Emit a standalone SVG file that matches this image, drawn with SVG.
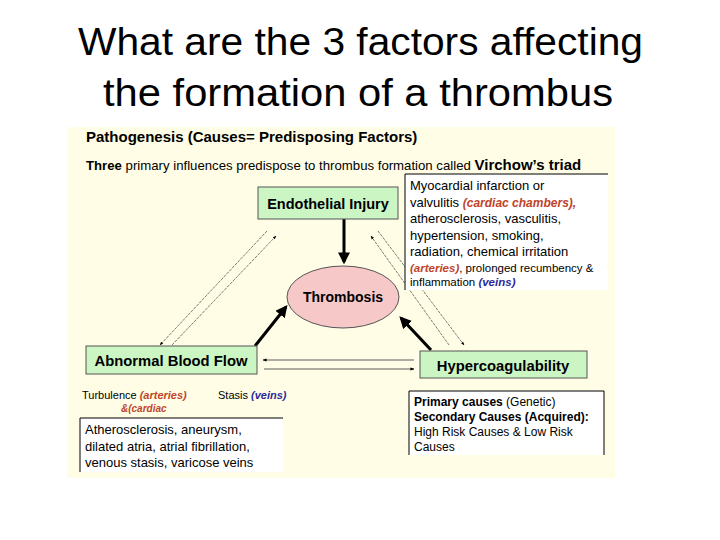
<svg xmlns="http://www.w3.org/2000/svg" width="720" height="540" viewBox="0 0 720 540">
<style>
.t{font-family:"Liberation Sans",Arial,sans-serif;fill:#000}
.b{font-weight:bold}
.r{fill:#c0442a;font-style:italic;font-weight:bold}
.v{fill:#2a2a9a;font-style:italic;font-weight:bold}
.gb{fill:#ccf5c4;stroke:#555;stroke-width:1}
.thin{stroke:#333;stroke-width:0.8;fill:none}
.dash{stroke:#444;stroke-width:0.7;fill:none;stroke-dasharray:3 1}
.thick{stroke:#000;stroke-width:3;fill:none}
</style>
<defs>
<marker id="a" viewBox="0 0 10 10" refX="9" refY="5" markerWidth="5" markerHeight="5" orient="auto"><path d="M0,1 L10,5 L0,9 z" fill="#000"/></marker>
<marker id="A" viewBox="0 0 10 10" refX="8" refY="5" markerWidth="4" markerHeight="4" orient="auto"><path d="M0,0 L10,5 L0,10 z" fill="#000"/></marker>
</defs>
<rect width="720" height="540" fill="#fff"/>
<text class="t" x="78" y="55" font-size="38" textLength="565" lengthAdjust="spacingAndGlyphs">What are the 3 factors affecting</text>
<text class="t" x="103" y="106" font-size="38" textLength="510" lengthAdjust="spacingAndGlyphs">the formation of a thrombus</text>
<rect x="67" y="127" width="548" height="351" fill="#fffde6"/>
<text class="t b" x="86" y="142" font-size="15">Pathogenesis (Causes= Predisposing Factors)</text>
<text class="t" x="86" y="170" font-size="13.2"><tspan class="b">Three</tspan> primary influences predispose to thrombus formation called <tspan class="b" font-size="15">Virchow’s triad</tspan></text>
<g id="connectors">
<line class="thick" x1="344" y1="219" x2="344" y2="262" marker-end="url(#A)"/>
<line class="thick" x1="255" y1="346" x2="286" y2="307" marker-end="url(#A)"/>
<line class="thick" x1="431" y1="350" x2="401" y2="318" marker-end="url(#A)"/>
<line class="dash" x1="267" y1="231" x2="160" y2="345" marker-end="url(#a)"/>
<line class="dash" x1="172" y1="345" x2="276" y2="236" marker-end="url(#a)"/>
<line class="dash" x1="449" y1="345" x2="371" y2="236" marker-end="url(#a)"/>
<line class="dash" x1="378" y1="231" x2="464" y2="345" marker-end="url(#a)"/>
<line class="thin" x1="414" y1="360" x2="263" y2="360" marker-end="url(#a)"/>
<line class="thin" x1="264" y1="369" x2="414" y2="369" marker-end="url(#a)"/>
</g>
<g id="endothelial"><rect class="gb" x="258" y="187" width="140" height="32"/><text class="t b" x="328" y="209" font-size="14.5" text-anchor="middle">Endothelial Injury</text></g>
<g id="thrombosis"><ellipse cx="343" cy="297" rx="56" ry="31" fill="#f7c8c8" stroke="#555"/><text class="t b" x="343" y="302" font-size="14" text-anchor="middle">Thrombosis</text></g>
<g id="abnormal"><rect class="gb" x="86" y="346" width="171" height="28"/><text class="t b" x="171" y="366" font-size="14.8" text-anchor="middle">Abnormal Blood Flow</text></g>
<g id="hyper"><rect class="gb" x="420" y="351" width="167" height="27"/><text class="t b" x="503" y="371" font-size="14.8" text-anchor="middle">Hypercoagulability</text></g>
<g id="endo-causes">
<rect x="405" y="174" width="203" height="116" fill="#fff"/>
<path d="M405,290 V174 H608" stroke="#000" stroke-width="1" fill="none"/>
<text class="t" font-size="13"><tspan x="410" y="190">Myocardial infarction or</tspan><tspan x="410" y="207">valvulitis <tspan class="r" font-size="12">(cardiac chambers),</tspan></tspan><tspan x="410" y="223">atherosclerosis, vasculitis,</tspan><tspan x="410" y="240">hypertension, smoking,</tspan><tspan x="410" y="256">radiation, chemical irritation</tspan><tspan x="410" y="272" font-size="11.5"><tspan class="r">(arteries)</tspan>, prolonged recumbency &amp;</tspan><tspan x="410" y="286" font-size="11.5">inflammation <tspan class="v">(veins)</tspan></tspan></text>
</g>
<g id="flow-causes">
<text class="t" x="82" y="399" font-size="11">Turbulence <tspan class="r">(arteries)</tspan></text>
<text class="t" x="218" y="399" font-size="11">Stasis <tspan class="v">(veins)</tspan></text>
<text class="t r" x="121" y="412" font-size="10">&amp;(cardiac</text>
<rect x="80" y="418" width="203" height="54" fill="#fff"/>
<path d="M80,472 V418 H283" stroke="#000" stroke-width="1" fill="none"/>
<text class="t" font-size="13"><tspan x="85" y="434">Atherosclerosis, aneurysm,</tspan><tspan x="85" y="451">dilated atria, atrial fibrillation,</tspan><tspan x="85" y="467">venous stasis, varicose veins</tspan></text>
</g>
<g id="coag-causes">
<rect x="409" y="391" width="195" height="64" fill="#fff"/>
<path d="M409,455 V391 H604 V455" stroke="#000" stroke-width="1" fill="none"/>
<text class="t" font-size="12"><tspan x="414" y="406"><tspan class="b">Primary causes</tspan> (Genetic)</tspan><tspan x="414" y="421" class="b">Secondary Causes (Acquired):</tspan><tspan x="414" y="436">High Risk Causes &amp; Low Risk</tspan><tspan x="414" y="451">Causes</tspan></text>
</g>
</svg>
